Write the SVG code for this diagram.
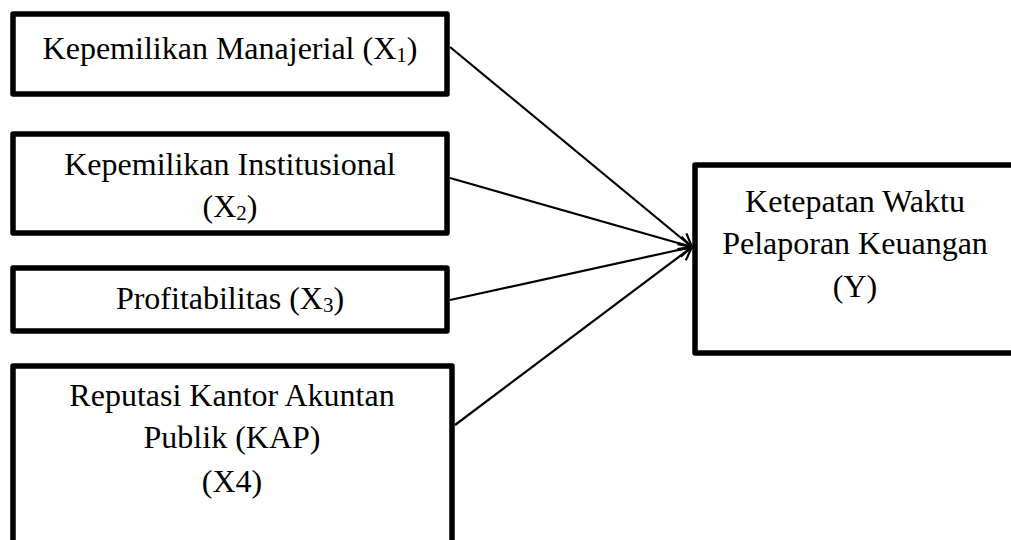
<svg xmlns="http://www.w3.org/2000/svg" width="1011" height="540" viewBox="0 0 1011 540">
<style>
.box{fill:#fff;stroke:#000;stroke-width:5.5;stroke-linejoin:round}
.t{font-family:"Liberation Serif","Times New Roman",serif;font-size:32px;fill:#000;text-anchor:middle}
.sub{font-size:21px}
.c{stroke:#000;stroke-width:2.2;fill:none;marker-end:url(#arr)}
</style>
<defs>
<marker id="arr" markerUnits="userSpaceOnUse" markerWidth="20" markerHeight="20" viewBox="-16 -10 20 20" refX="0" refY="0" orient="auto">
<path d="M-13,-7 L0,0 L-13,7" fill="none" stroke="#000" stroke-width="2.2"/>
</marker>
</defs>
<rect width="1011" height="540" fill="#fff"/>
<g id="connectors">
<line class="c" x1="450" y1="47" x2="692" y2="247"/>
<line class="c" x1="450" y1="178" x2="692" y2="247"/>
<line class="c" x1="450" y1="300" x2="692" y2="247"/>
<line class="c" x1="455" y1="425" x2="692" y2="247"/>
</g>
<g id="x1">
<rect class="box" x="13" y="14" width="434" height="80"/>
<text class="t" x="230" y="59">Kepemilikan Manajerial (X<tspan class="sub" dy="3">1</tspan><tspan dy="-3">)</tspan></text>
</g>
<g id="x2">
<rect class="box" x="13" y="134" width="434" height="99"/>
<text class="t" x="230" y="175">Kepemilikan Institusional</text>
<text class="t" x="230" y="217">(X<tspan class="sub" dy="3">2</tspan><tspan dy="-3">)</tspan></text>
</g>
<g id="x3">
<rect class="box" x="13" y="268" width="434" height="63"/>
<text class="t" x="230" y="309">Profitabilitas (X<tspan class="sub" dy="3">3</tspan><tspan dy="-3">)</tspan></text>
</g>
<g id="x4">
<rect class="box" x="13" y="366" width="439" height="200"/>
<text class="t" x="232" y="406">Reputasi Kantor Akuntan</text>
<text class="t" x="232" y="448">Publik (KAP)</text>
<text class="t" x="232" y="492">(X4)</text>
</g>
<g id="y">
<rect class="box" x="695" y="165" width="325" height="188"/>
<text class="t" x="855" y="212">Ketepatan Waktu</text>
<text class="t" x="855" y="254">Pelaporan Keuangan</text>
<text class="t" x="855" y="297">(Y)</text>
</g>
</svg>
